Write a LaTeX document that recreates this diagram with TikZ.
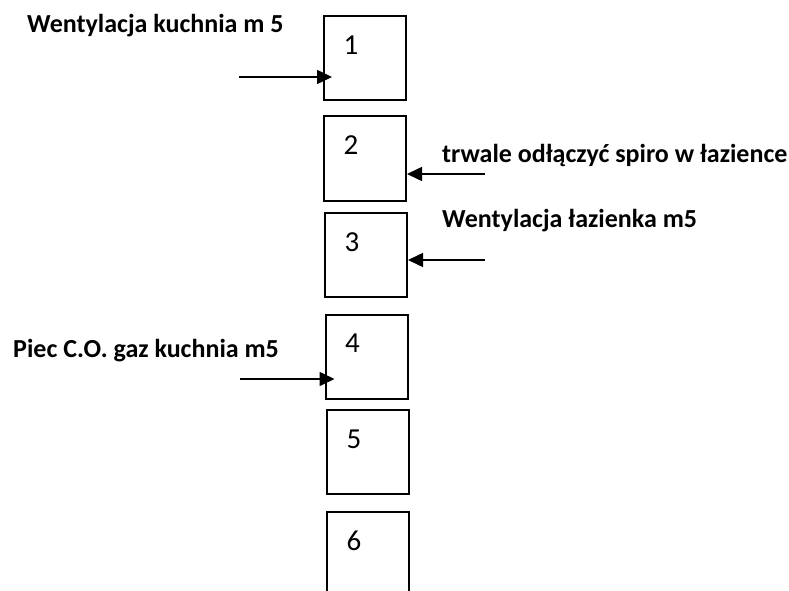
\documentclass[tikz,border=0pt]{standalone}
\usepackage{fontspec}
\setmainfont{Carlito}
\usetikzlibrary{arrows.meta,positioning}

\begin{document}
\begin{tikzpicture}[x=1pt,y=-1pt,>={Triangle[length=15pt,width=14pt]},
  box/.style={draw,line width=2pt,minimum width=82pt,minimum height=84pt,inner sep=0pt},
  num/.style={font=\fontsize{29}{34}\selectfont,inner sep=0pt},
  lbl/.style={font=\bfseries\fontsize{26}{31}\selectfont,anchor=base west,inner sep=0pt},
  feed/.style={->,line width=1.6pt}]
\useasboundingbox (0,0) rectangle (789,591);
\clip (0,0) rectangle (789,591);

% the six boxes
\node[box] (b1) at (365,58) {};
\node[box] (b2) at (365,158.5) {};
\node[box] (b3) at (366,255) {};
\node[box] (b4) at (366.5,356.5) {};
\node[box] (b5) at (368,452) {};
\node[box] (b6) at (368,554) {};

\foreach \i in {1,...,6}
  \node[num] (n\i) at ([xshift=28pt,yshift=-30pt]b\i.north west) {\i};

% labels
\node[lbl] (l1) at (27,33) {Wentylacja kuchnia m 5};
\node[lbl] (l2) at (442,162) {trwale odłączyć spiro w łazience};
\node[lbl] (l3) at (442,227) {Wentylacja łazienka m5};
\node[lbl] (l4) at (13,357) {Piec C.O. gaz kuchnia m5};

% arrows
\coordinate (a1) at (239,77);
\coordinate (a2) at (485,174);
\coordinate (a3) at (485,260);
\coordinate (a4) at (240,379);
\draw[feed,shorten >=-9pt] (a1) -- (a1 -| b1.west);
\draw[feed] (a2) -- (a2 -| b2.east);
\draw[feed] (a3) -- (a3 -| b3.east);
\draw[feed,shorten >=-10pt] (a4) -- (a4 -| b4.west);
\end{tikzpicture}
\end{document}
